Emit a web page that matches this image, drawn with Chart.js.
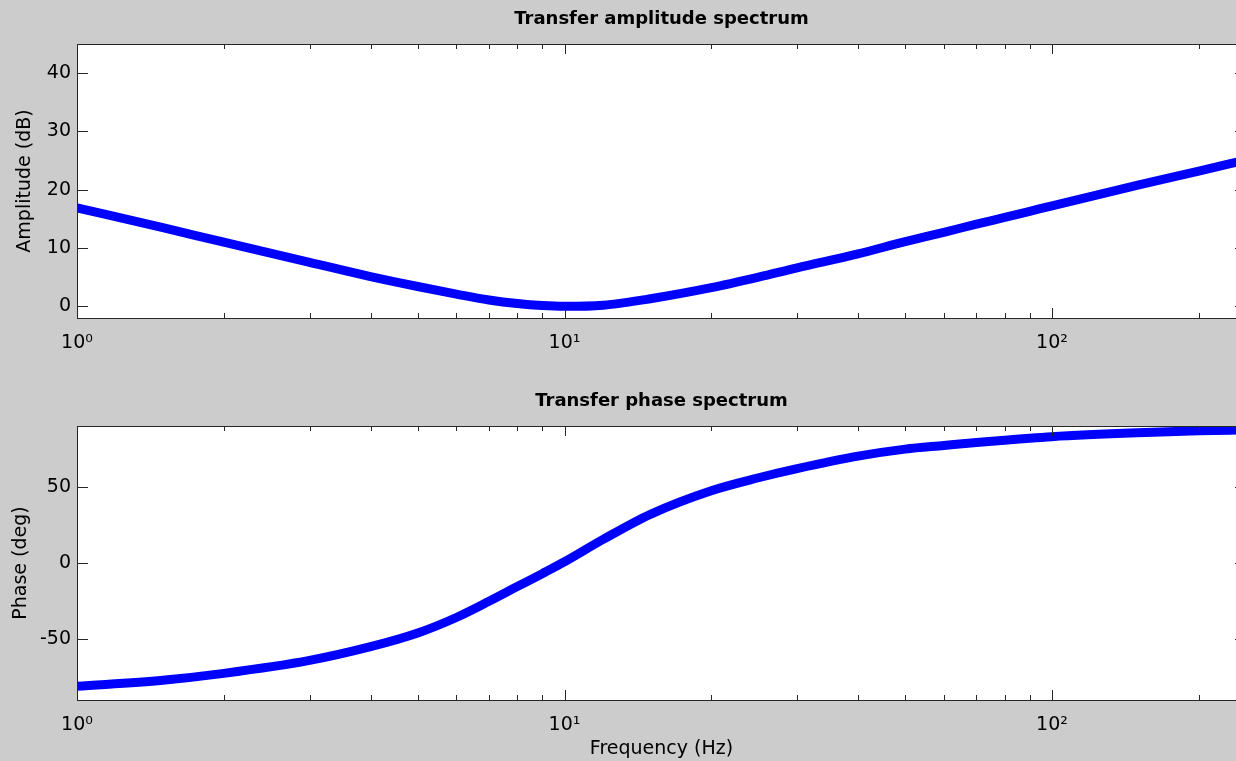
<!DOCTYPE html>
<html lang="en">
<head>
<meta charset="UTF-8">
<title>Transfer spectrum</title>
<style>
  body {
    margin: 0;
    background: #cccccc;
    overflow: hidden;
  }
  .panel {
    position: relative;
    width: 1250px;
  }
  #ampBox { height: 380px; }
  #phaseBox { height: 381px; }
</style>
<script src="https://cdn.jsdelivr.net/npm/chart.js"></script>
</head>
<body>
<div class="panel" id="ampBox"><canvas id="ampChart"></canvas></div>
<div class="panel" id="phaseBox"><canvas id="phaseChart"></canvas></div>
<script>
// values
const freqHz = [1, 1.5, 2, 3, 4, 5, 6, 7, 8, 9, 10, 12, 15, 20, 25, 30, 40, 50, 60, 70, 80, 90, 100, 150, 200, 250];
const amplitudeDb = [16.9, 13.5, 11.0, 7.55, 5.1, 3.4, 2.1, 1.1, 0.48, 0.13, 0.0, 0.2, 1.3, 3.2, 5.0, 6.6, 9.0, 11.1, 12.7, 14.1, 15.25, 16.3, 17.25, 20.8, 23.2, 25.1];
const phaseDeg = [-81, -77, -72.5, -64, -55, -46, -35.8, -25.2, -15.5, -7, 0.8, 15.5, 32, 47.5, 56, 62, 70.2, 74.8, 77.2, 79.2, 80.6, 82, 83, 85.5, 86.8, 87.5];

const xMajorTicks = [1, 10, 100];
const xTickLabels = ['10⁰', '10¹', '10²'];
const xMinorTicks = [2, 3, 4, 5, 6, 7, 8, 9, 20, 30, 40, 50, 60, 70, 80, 90, 200];
const ampTicks = [0, 10, 20, 30, 40];
const phaseTicks = [-50, 0, 50];

Chart.defaults.font.family = '"DejaVu Sans", Arial, sans-serif';
Chart.defaults.color = '#000';

// white box, inward ticks and frame like the old matlab figures
const matlabAxes = {
    id: 'matlabAxes',
    beforeDraw(chart) {
        const {ctx, chartArea: a} = chart;
        ctx.save();
        ctx.fillStyle = '#ffffff';
        ctx.fillRect(a.left, a.top, a.right - a.left, a.bottom - a.top);
        ctx.restore();
    },
    afterDatasetsDraw(chart) {
        const {ctx, chartArea: a, scales} = chart;
        ctx.save();
        ctx.strokeStyle = '#262626';
        ctx.lineWidth = 1;
        ctx.beginPath();
        scales.x.ticks.forEach(t => {
            const px = Math.round(scales.x.getPixelForValue(t.value)) + 0.5;
            const len = xMajorTicks.includes(t.value) ? 10 : 5;
            ctx.moveTo(px, a.top);
            ctx.lineTo(px, a.top + len);
            ctx.moveTo(px, a.bottom);
            ctx.lineTo(px, a.bottom - len);
        });
        scales.y.ticks.forEach(t => {
            const py = Math.round(scales.y.getPixelForValue(t.value)) + 0.5;
            ctx.moveTo(a.left, py);
            ctx.lineTo(a.left + 11, py);
            ctx.moveTo(a.right, py);
            ctx.lineTo(a.right - 11, py);
        });
        ctx.stroke();
        ctx.strokeRect(Math.round(a.left) + 0.5, Math.round(a.top) + 0.5,
            Math.round(a.right - a.left), Math.round(a.bottom - a.top));
        ctx.restore();
    }
};

function makePanel(id, cfg) {
    return new Chart(document.getElementById(id), {
        type: 'line',
        data: {
            datasets: [{
                data: freqHz.map((f, i) => ({x: f, y: cfg.values[i]})),
                borderColor: '#0000ff',
                borderWidth: 9,
                pointRadius: 0,
                cubicInterpolationMode: 'monotone',
                clip: 0
            }]
        },
        options: {
            responsive: true,
            maintainAspectRatio: false,
            animation: false,
            layout: {padding: {left: 0, right: 4, top: 0, bottom: 0}},
            plugins: {
                legend: {display: false},
                tooltip: {enabled: false},
                title: {
                    display: true,
                    text: cfg.title,
                    fullSize: false,
                    color: '#000',
                    font: {size: 18, weight: 'bold', lineHeight: 1.2},
                    padding: cfg.titlePad
                }
            },
            scales: {
                x: {
                    type: 'logarithmic',
                    min: 1,
                    max: 250,
                    grid: {display: false, drawTicks: false},
                    border: {display: false},
                    afterBuildTicks: s => {
                        s.ticks = xMajorTicks.concat(xMinorTicks).sort((a, b) => a - b).map(v => ({value: v}));
                    },
                    afterFit: s => { s.height = cfg.xHeight; },
                    ticks: {
                        autoSkip: false,
                        maxRotation: 0,
                        padding: 14,
                        font: {size: 19},
                        callback: v => {
                            const i = xMajorTicks.indexOf(v);
                            return i >= 0 ? xTickLabels[i] : '';
                        }
                    },
                    title: {
                        display: !!cfg.xTitle,
                        text: cfg.xTitle || '',
                        font: {size: 19},
                        padding: {top: 0, bottom: 1}
                    }
                },
                y: {
                    min: cfg.yMin,
                    max: cfg.yMax,
                    grid: {display: false, drawTicks: false},
                    border: {display: false},
                    afterBuildTicks: s => { s.ticks = cfg.yTicks.map(v => ({value: v})); },
                    afterFit: s => { s.width = 77; },
                    ticks: {padding: 6, font: {size: 19}},
                    title: {
                        display: true,
                        text: cfg.yTitle,
                        font: {size: 19},
                        padding: {top: cfg.yTitlePad, bottom: 0}
                    }
                }
            }
        },
        plugins: [matlabAxes]
    });
}

makePanel('ampChart', {
    title: 'Transfer amplitude spectrum',
    titlePad: {top: 9, bottom: 13.4},
    values: amplitudeDb,
    yMin: -2, yMax: 45,
    yTicks: ampTicks,
    yTitle: 'Amplitude (dB)',
    yTitlePad: 14,
    xHeight: 62
});

makePanel('phaseChart', {
    title: 'Transfer phase spectrum',
    titlePad: {top: 10.2, bottom: 14.2},
    values: phaseDeg,
    yMin: -90, yMax: 90,
    yTicks: phaseTicks,
    yTitle: 'Phase (deg)',
    yTitlePad: 9.5,
    xTitle: 'Frequency (Hz)',
    xHeight: 61
});
</script>
</body>
</html>
